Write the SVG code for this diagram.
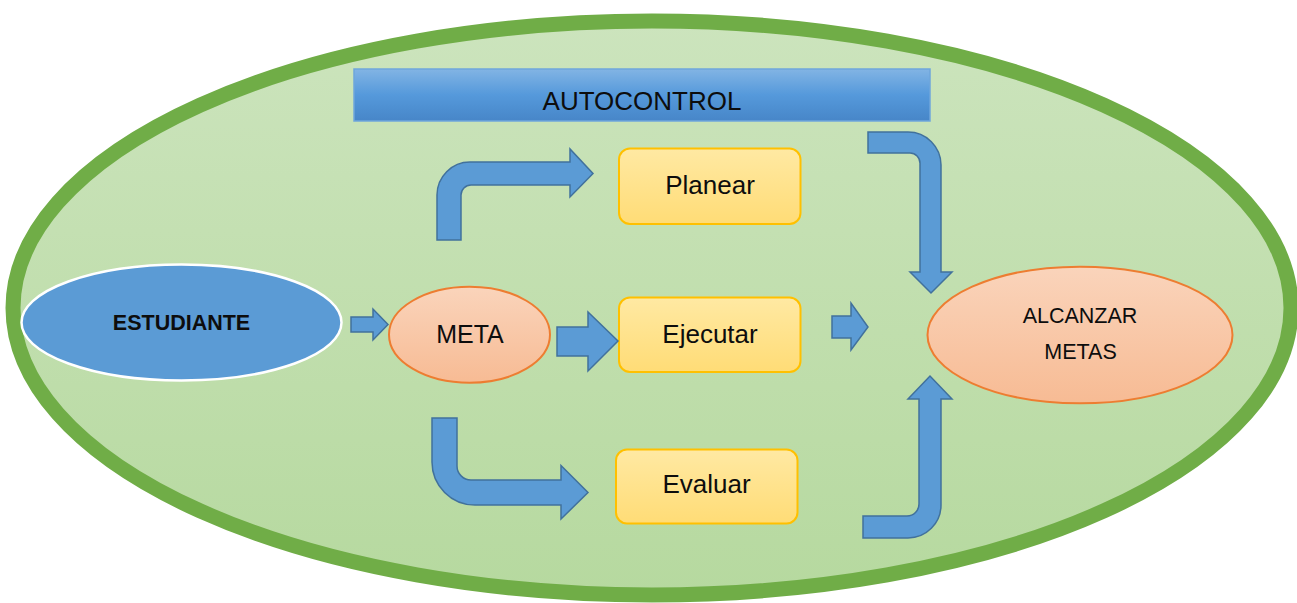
<svg xmlns="http://www.w3.org/2000/svg" width="1297" height="603" viewBox="0 0 1297 603">
  <defs>
    <linearGradient id="gBg" x1="0" y1="0" x2="0" y2="1">
      <stop offset="0" stop-color="#CCE4BD"/>
      <stop offset="1" stop-color="#B6D99F"/>
    </linearGradient>
    <linearGradient id="gBar" x1="0" y1="0" x2="0" y2="1">
      <stop offset="0" stop-color="#82B4E4"/>
      <stop offset="0.5" stop-color="#5599DB"/>
      <stop offset="1" stop-color="#4786C8"/>
    </linearGradient>
    <linearGradient id="gBox" x1="0" y1="0" x2="0" y2="1">
      <stop offset="0" stop-color="#FFE9A3"/>
      <stop offset="1" stop-color="#FFDC76"/>
    </linearGradient>
    <linearGradient id="gOrange" x1="0" y1="0" x2="0" y2="1">
      <stop offset="0" stop-color="#FAD4BB"/>
      <stop offset="1" stop-color="#F7BB94"/>
    </linearGradient>
  </defs>
  <style>
    .txt { font-family: "Liberation Sans", Arial, sans-serif; fill: #0D0D0D; text-anchor: middle; }
    .box { fill: url(#gBox); stroke: #FFC000; stroke-width: 2; }
    .oval { fill: url(#gOrange); stroke: #ED7D31; stroke-width: 2; }
    .arrow { fill: #5B9BD5; stroke: #41719C; stroke-width: 1.5; stroke-linejoin: miter; }
  </style>

  <g id="background">
    <ellipse cx="652" cy="308" rx="639" ry="287" fill="url(#gBg)" stroke="#70AD47" stroke-width="15"/>
  </g>

  <g id="autocontrol">
    <rect x="354" y="69" width="576" height="52" fill="url(#gBar)" stroke="#6FA6DB" stroke-width="1.5"/>
    <text class="txt" x="642" y="109.5" font-size="26">AUTOCONTROL</text>
  </g>

  <g id="estudiante">
    <ellipse cx="181.5" cy="322.5" rx="160" ry="58" fill="#5B9BD5" stroke="#FFFFFF" stroke-width="2.5"/>
    <text class="txt" x="181.5" y="330" font-size="21.5" font-weight="bold">ESTUDIANTE</text>
  </g>

  <g id="meta">
    <ellipse class="oval" cx="469.5" cy="334.7" rx="80.5" ry="48"/>
    <text class="txt" x="470" y="343.3" font-size="25">META</text>
  </g>

  <g id="planear">
    <rect class="box" x="619" y="148.5" width="181.5" height="75.5" rx="11"/>
    <text class="txt" x="710" y="194" font-size="26">Planear</text>
  </g>

  <g id="ejecutar">
    <rect class="box" x="619" y="297.5" width="181.5" height="74.5" rx="11"/>
    <text class="txt" x="710" y="343.3" font-size="26">Ejecutar</text>
  </g>

  <g id="evaluar">
    <rect class="box" x="616" y="449.5" width="181.5" height="74" rx="11"/>
    <text class="txt" x="706.5" y="493.3" font-size="26">Evaluar</text>
  </g>

  <g id="alcanzar-metas">
    <ellipse class="oval" cx="1080" cy="335" rx="152.5" ry="68.3"/>
    <text class="txt" x="1080" y="322.7" font-size="21.5">ALCANZAR</text>
    <text class="txt" x="1080.5" y="359.3" font-size="21.5">METAS</text>
  </g>

  <g id="connectors">
    <path class="arrow" d="M 351 317 L 373 317 L 373 309 L 388 324.5 L 373 340 L 373 332 L 351 332 Z"/>
    <path class="arrow" d="M 557 327 L 588 327 L 588 312 L 618 341 L 588 371 L 588 356 L 557 356 Z"/>
    <path class="arrow" d="M 437 240 L 437 195 A 33 33 0 0 1 470 162 L 570 162 L 570 149 L 593 173.5 L 570 197 L 570 185 L 471 185 A 10 10 0 0 0 461 195 L 461 240 Z"/>
    <path class="arrow" d="M 432 418 L 432 462 A 43 43 0 0 0 475 505 L 561 505 L 561 519 L 588 492.5 L 561 465.5 L 561 480 L 471 480 A 14 14 0 0 1 457 466 L 457 418 Z"/>
    <path class="arrow" d="M 832 316 L 851 316 L 851 303 L 868 327 L 851 350 L 851 338 L 832 338 Z"/>
    <path class="arrow" d="M 868 132 L 908 132 A 33 33 0 0 1 941 165 L 941 272 L 952 272 L 931 293 L 910 272 L 920 272 L 920 163 A 10 10 0 0 0 910 153 L 868 153 Z"/>
    <path class="arrow" d="M 863 516 L 907 516 A 12 12 0 0 0 919 504 L 919 399 L 908 399 L 930 376 L 952 399 L 941 399 L 941 505 A 33 33 0 0 1 908 538 L 863 538 Z"/>
  </g>
</svg>
